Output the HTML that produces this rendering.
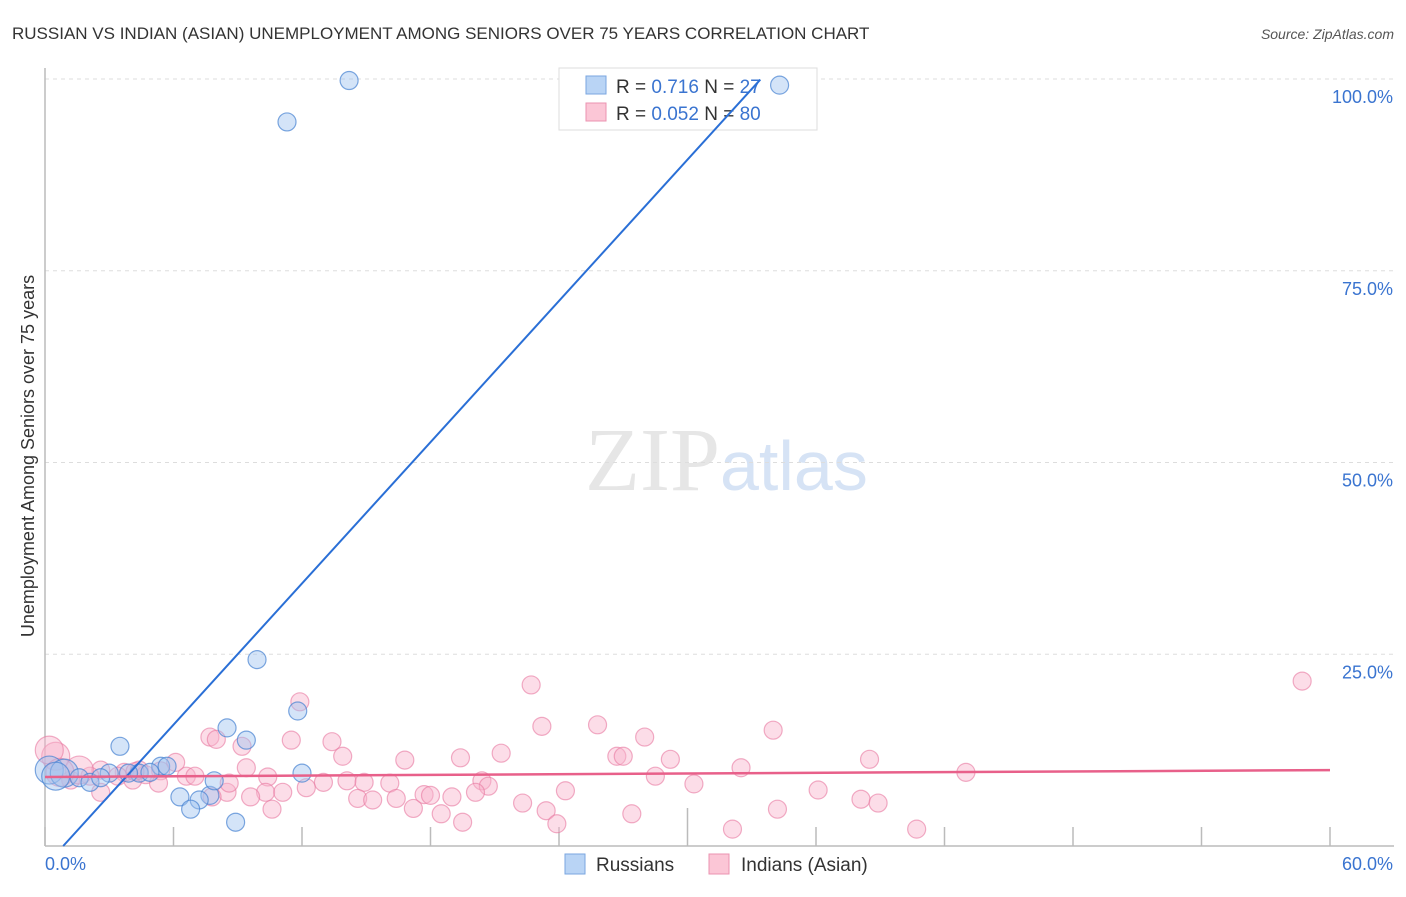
<!DOCTYPE html>
<html><head><meta charset="utf-8"><style>
body{margin:0;background:#fff;font-family:"Liberation Sans",sans-serif}
</style></head><body>
<svg width="1406" height="892" xmlns="http://www.w3.org/2000/svg">
<text x="12" y="39" font-size="17" fill="#333">RUSSIAN VS INDIAN (ASIAN) UNEMPLOYMENT AMONG SENIORS OVER 75 YEARS CORRELATION CHART</text>
<text x="1394" y="39" font-size="14" fill="#555" font-style="italic" text-anchor="end">Source: ZipAtlas.com</text>
<text x="720" y="490" font-size="90" fill="#e6e6e6" text-anchor="end" font-family="Liberation Serif">ZIP</text>
<text x="720" y="490" font-size="70" fill="#d6e3f5">atlas</text>
<g id="grid"></g>
<g id="axes"></g>
<g>
<rect x="559" y="68" width="258" height="62" fill="#fff" stroke="#ddd"/>
<rect x="586" y="76" width="20" height="18" fill="#b9d4f5" stroke="#7aa6e0"/>
<rect x="586" y="103" width="20" height="18" fill="#fbc6d6" stroke="#eb93b0"/>
<text x="616" y="93" font-size="19" fill="#333">R = <tspan fill="#3a74d0">0.716</tspan>   N = <tspan fill="#3a74d0">27</tspan></text>
<text x="616" y="120" font-size="19" fill="#333">R = <tspan fill="#3a74d0">0.052</tspan>   N = <tspan fill="#3a74d0">80</tspan></text>
</g>
<g id="pts"></g>
<g id="trend"></g>
<text transform="translate(34,456) rotate(-90)" font-size="18" fill="#333" text-anchor="middle">Unemployment Among Seniors over 75 years</text>
<g>
<rect x="565" y="854" width="20" height="20" fill="#b9d4f5" stroke="#7aa6e0"/>
<text x="596" y="871" font-size="19" fill="#333">Russians</text>
<rect x="709" y="854" width="20" height="20" fill="#fbc6d6" stroke="#eb93b0"/>
<text x="741" y="871" font-size="19" fill="#333">Indians (Asian)</text>
</g>
</svg>
<script>
const yTicks=[25,50,75,100];
const yTickLabels=["25.0%","50.0%","75.0%","100.0%"];
const xTicks=[0,6,12,18,24,30,36,42,48,54,60];
const xMin=0,xMax=60,yMin=0,yMax=100;
const russiansX=[14.2,11.3,9.9,11.8,8.5,9.4,3.5,12.0,5.4,5.7,4.4,3.0,3.9,6.3,7.7,7.2,6.8,8.9,7.9,0.2,0.9,1.6,2.1,2.6,0.5,4.9,34.3];
const russiansY=[99.8,94.4,24.3,17.6,15.4,13.8,13.0,9.5,10.4,10.4,9.5,9.5,9.5,6.4,6.6,6.0,4.8,3.1,8.5,9.9,9.5,8.9,8.3,8.9,9.1,9.6,99.2];
const indiansX=[58.7,22.7,11.9,23.2,25.8,28.0,34.0,7.7,8.0,9.2,11.5,13.4,13.9,16.8,19.4,21.3,26.7,27.0,29.2,38.5,32.5,43.0,28.5,20.4,20.7,30.3,14.1,16.1,10.4,13.0,14.9,6.6,6.1,5.4,4.1,5.3,3.7,3.4,2.6,2.1,1.2,0.5,0.2,2.6,8.5,10.3,11.1,12.2,14.6,15.3,16.4,17.2,17.7,18.0,18.5,19.0,19.5,20.1,22.3,23.4,23.9,24.3,27.4,32.1,34.2,36.1,38.1,38.9,40.7,9.6,7.8,10.6,9.4,8.6,4.4,1.6,0.7,7.0,4.7,4.2];
const indiansY=[21.5,21.0,18.8,15.6,15.8,14.2,15.1,14.2,13.9,13.0,13.8,13.6,11.7,11.2,11.5,12.1,11.7,11.7,11.3,11.3,10.2,9.6,9.1,8.5,7.8,8.1,8.5,8.2,9.0,8.3,8.3,9.1,10.9,9.8,8.6,8.2,9.6,9.1,9.9,9.1,8.6,11.7,12.5,7.0,7.0,7.0,7.0,7.6,6.2,6.0,6.2,4.9,6.7,6.6,4.2,6.4,3.1,7.0,5.6,4.6,2.9,7.2,4.2,2.2,4.8,7.3,6.1,5.6,2.2,6.4,6.4,4.8,10.2,8.2,9.9,9.9,9.6,9.1,9.3,9.7];
const russiansBig=[0,0,0,0,0,0,0,0,0,0,0,0,0,0,0,0,0,0,0,1,1,0,0,0,1,0,0];
const indiansBig=[0,0,0,0,0,0,0,0,0,0,0,0,0,0,0,0,0,0,0,0,0,0,0,0,0,0,0,0,0,0,0,0,0,0,0,0,0,0,0,0,0,1,1,0,0,0,0,0,0,0,0,0,0,0,0,0,0,0,0,0,0,0,0,0,0,0,0,0,0,0,0,0,0,0,0,1,1,0,0,0];
const blueTrend=[0.85,33.4,-2.61,3.07];
const pinkTrend=[9.0,9.9];
const L=45,R=1330,T=79,B=846;
const sx=v=>L+(v-xMin)/(xMax-xMin)*(R-L);
const sy=v=>B-(v-yMin)/(yMax-yMin)*(B-T);
const NS='http://www.w3.org/2000/svg';
function mk(p,t,a){const e=document.createElementNS(NS,t);for(const k in a)e.setAttribute(k,a[k]);document.getElementById(p).appendChild(e);return e;}
yTicks.forEach((v,i)=>{
 const g=mk('grid','line',{x1:L,x2:1394,y1:sy(v),y2:sy(v),stroke:'#ddd','stroke-dasharray':'4,4'});
 
 
 const t=mk('grid','text',{x:1393,y:sy(v)+24,'font-size':18,fill:'#3a74d0','text-anchor':'end'});
 t.textContent=yTickLabels[i];
 
 
});
const ax=mk('axes','line',{x1:L,x2:L,y1:68,y2:B,stroke:'#bbb','stroke-width':1.5});


const bx=mk('axes','line',{x1:L,x2:R+64,y1:B,y2:B,stroke:'#bbb','stroke-width':1.5});


xTicks.forEach((v,i)=>{
 const tk=mk('axes','line',{x1:sx(v),x2:sx(v),y1:i==5?808:827,y2:B,stroke:'#bbb','stroke-width':1.5});
 
 
});
const xl0=mk('axes','text',{x:45,y:870,'font-size':18,fill:'#3a74d0'});xl0.textContent='0.0%';


const xl1=mk('axes','text',{x:1393,y:870,'font-size':18,fill:'#3a74d0','text-anchor':'end'});xl1.textContent='60.0%';


indiansX.forEach((v,i)=>{
 const c=mk('pts','circle',{cx:sx(v),cy:sy(indiansY[i]),r:indiansBig[i]?14:9,fill:'rgba(248,180,203,0.45)',stroke:'rgba(232,120,160,0.6)','stroke-width':1.2});
 
 
});
russiansX.forEach((v,i)=>{
 const c=mk('pts','circle',{cx:sx(v),cy:sy(russiansY[i]),r:russiansBig[i]?14:9,fill:'rgba(160,196,240,0.45)',stroke:'rgba(70,130,210,0.7)','stroke-width':1.2});
 
 
});
const bl=mk('trend','line',{x1:sx(blueTrend[0]),y1:sy(blueTrend[2]+blueTrend[3]*blueTrend[0]),x2:sx(blueTrend[1]),y2:sy(blueTrend[2]+blueTrend[3]*blueTrend[1]),stroke:'#2a6fd6','stroke-width':2});


const pl=mk('trend','line',{x1:sx(0),y1:sy(pinkTrend[0]),x2:sx(60),y2:sy(pinkTrend[1]),stroke:'#e8608a','stroke-width':2.5});


</script>
</body></html>
